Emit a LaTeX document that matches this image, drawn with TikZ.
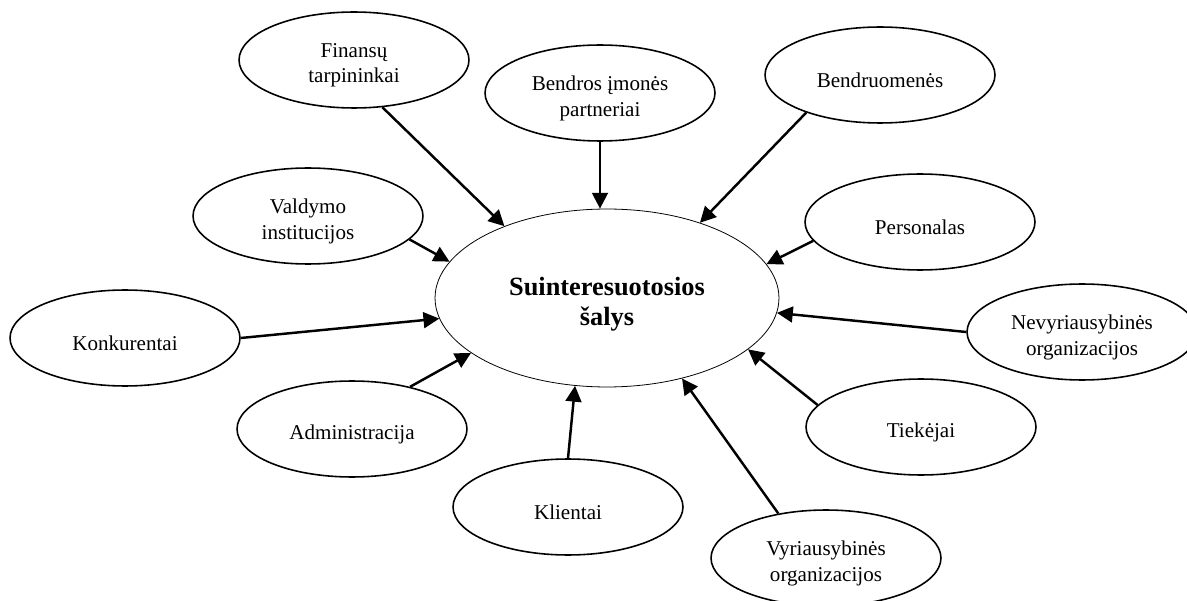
\documentclass[tikz,border=0pt]{standalone}
\usepackage{fontspec}
\setmainfont{Liberation Serif}
\usetikzlibrary{shapes.geometric,arrows.meta}
\begin{document}
\begin{tikzpicture}[x=0.02cm,y=-0.02cm,
  party/.style={ellipse,draw,line width=0.9pt,minimum width=4.6cm,minimum height=1.92cm,
    inner sep=0pt,
    label={[align=center,inner sep=0pt,yshift=-3pt,
            font=\fontsize{12}{14.6}\selectfont]center:#1}},
  hub/.style={ellipse,draw,line width=0.45pt,minimum width=6.88cm,minimum height=3.56cm,
    inner sep=0pt,
    label={[align=center,inner sep=0pt,yshift=-3.4pt,
            font=\fontsize{15}{17}\selectfont\bfseries]center:#1}},
  link/.style={line width=1.4pt,-{Triangle[length=9pt,width=9pt]}}]
\clip (0,0) rectangle (1187,601);

% central node
\node[hub={Suinteresuotosios\\šalys}] (hub) at (607,298) {};

% surrounding stakeholder groups
\node[party={Finansų\\tarpininkai}]            (fin)   at (354,60)   {};
\node[party={Bendros įmonės\\partneriai}]      (bend)  at (600,93)   {};
\node[party={Bendruomenės}]                    (comm)  at (880,75)   {};
\node[party={Valdymo\\institucijos}]           (gov)   at (308,216)  {};
\node[party={Personalas}]                      (pers)  at (920,222)  {};
\node[party={Konkurentai}]                     (comp)  at (125,338)  {};
\node[party={Nevyriausybinės\\organizacijos}]  (ngo)   at (1082,332) {};
\node[party={Administracija}]                  (adm)   at (352,429)  {};
\node[party={Tiekėjai}]                        (supp)  at (921,427)  {};
\node[party={Klientai}]                        (cli)   at (568,507)  {};
\node[party={Vyriausybinės\\organizacijos}]    (state) at (826,558)  {};

% arrows pointing into the centre
\draw[link] (fin.-59)    -- (hub.145);
\draw[link] (bend.south) -- (bend.south |- hub.north);
\draw[link] (comm.207)   -- (hub.39);
\draw[link] (gov.-13)    -- (hub.167);
\draw[link] (pers.190)   -- (hub.12);
\draw[link] (comp.east)  -- (hub.187);
\draw[link] (ngo.west)   -- (hub.-5);
\draw[link] (adm.36)     -- (hub.202);
\draw[link] (supp.168)   -- (hub.-20);
\draw[link] (cli.north)  -- (hub.250);
\draw[link] (state.137)  -- (hub.-47);
\end{tikzpicture}
\end{document}
